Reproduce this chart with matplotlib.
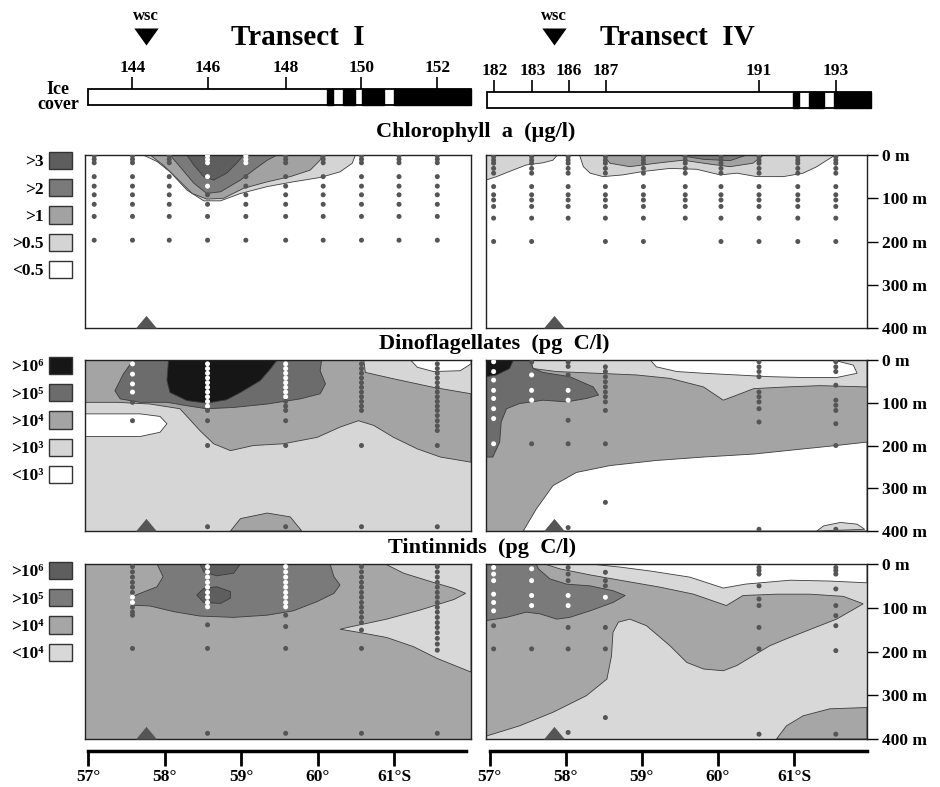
import numpy as np
import matplotlib.pyplot as plt
from matplotlib.path import Path
from matplotlib.patches import Patch, Rectangle

plt.rcParams['font.family'] = ['Liberation Serif', 'DejaVu Serif']
plt.rcParams['font.weight'] = 'bold'

# ---------------- header: ice cover, stations, wsc ----------------
bar_I = (57.0, 62.0)
ice_I = [(60.12, 60.20), (60.33, 60.48), (60.58, 60.87), (61.00, 62.00)]
stn_I = [144, 146, 148, 150, 152]
stn_I_lat = [57.58, 58.56, 59.58, 60.57, 61.56]
wsc_I = 57.76

bar_IV = (56.96, 62.01)
ice_IV = [(60.99, 61.07), (61.20, 61.39), (61.53, 62.01)]
stn_IV = [182, 183, 186, 187, 191, 193]
stn_IV_lat = [57.06, 57.56, 58.04, 58.53, 60.54, 61.55]
wsc_IV = 57.84

# ---------------- sampling stations / depths ----------------
chl_I_lat = [57.08, 57.58, 58.06, 58.56, 59.06, 59.58, 60.07, 60.57, 61.06, 61.56]
chl_I_dep = [2, 10, 18, 50, 72, 92, 114, 142, 197]
chl_IV_lat = [57.05, 57.55, 58.03, 58.52, 59.02, 59.57, 60.04, 60.54, 61.05, 61.55]
chl_IV_dep = [4, 12, 19, 31, 42, 73, 92, 104, 119, 146, 200]
chl_IV_deep = [1, 1, 0, 1, 1, 0, 1, 1, 1, 1]   # station sampled at 200 m

net_I_lat = [57.58, 58.56, 59.58, 60.57, 61.56]
net_IV_lat = [57.05, 57.55, 58.03, 58.52, 60.54, 61.55]

dino_I_dep = [
    [9, 33, 56, 75, 99, 142],
    [9, 20, 31, 42, 53, 64, 75, 86, 97, 108, 118, 142, 200, 390],
    [9, 20, 31, 42, 53, 64, 75, 86, 97, 108, 118, 142, 200, 390],
    [9, 20, 31, 42, 53, 64, 75, 86, 97, 108, 118, 200, 390],
    [9, 20, 31, 42, 53, 64, 75, 86, 97, 108, 118, 130, 142, 154, 165, 200, 390],
]
dino_IV_dep = [
    [4, 27, 47, 71, 90, 114, 137, 196],
    [5, 35, 71, 94, 196],
    [5, 15, 35, 71, 94, 141, 196, 392],
    [16, 27, 39, 51, 63, 75, 86, 98, 118, 196, 333],
    [4, 16, 27, 39, 75, 86, 98, 114, 145, 396],
    [4, 16, 27, 59, 94, 106, 118, 149, 200, 396],
]
tint_I_dep = [
    [6, 18, 30, 42, 53, 65, 76, 88, 99, 110, 117, 193],
    [6, 18, 30, 42, 53, 65, 76, 88, 98, 139, 193, 387],
    [6, 18, 30, 42, 53, 65, 76, 88, 98, 117, 143, 193, 387],
    [6, 18, 30, 42, 53, 65, 76, 88, 99, 110, 122, 134, 151, 193, 387],
    [6, 18, 30, 42, 53, 65, 76, 88, 99, 110, 122, 134, 145, 157, 170, 183, 197, 387],
]
tint_IV_dep = [
    [8, 23, 38, 69, 88, 107, 141, 194],
    [11, 38, 72, 95, 194],
    [8, 23, 38, 72, 95, 145, 194, 385],
    [19, 38, 50, 76, 145, 194, 351],
    [8, 15, 23, 50, 80, 95, 145, 194, 389],
    [8, 15, 23, 57, 95, 118, 141, 198, 389],
]

# ---------------- contour regions (latitude, depth) ----------------
chl_I_05 = [(57.72, 0), (57.90, 15), (58.07, 39), (58.29, 81), (58.51, 106), (58.73, 106), (58.99, 89),
            (59.34, 73), (59.68, 62), (60.03, 52), (60.29, 39), (60.45, 19), (60.49, 0)]
chl_I_1 = [(57.81, 0), (57.98, 23), (58.16, 54), (58.36, 89), (58.55, 102), (58.77, 100), (59.03, 77),
           (59.34, 62), (59.64, 50), (59.90, 35), (60.03, 12), (60.05, 0)]
chl_I_2 = [(58.07, 0), (58.20, 27), (58.38, 65), (58.55, 89), (58.73, 85), (58.99, 58), (59.16, 35),
           (59.34, 12), (59.47, 0)]
chl_I_3 = [(58.29, 0), (58.38, 23), (58.51, 50), (58.64, 58), (58.81, 42), (58.94, 19), (59.03, 0)]

chl_IV_05a = [(56.95, 0), (56.95, 58), (57.09, 50), (57.26, 38), (57.48, 23), (57.70, 18), (57.83, 12),
              (57.89, 0)]
chl_IV_05b = [(58.18, 0), (58.23, 27), (58.32, 42), (58.49, 50), (58.75, 46), (59.02, 38), (59.37, 31),
              (59.72, 33), (60.03, 46), (60.25, 42), (60.51, 50), (60.86, 50), (61.12, 42), (61.30, 27),
              (61.47, 8), (61.54, 0)]
chl_IV_1 = [(58.49, 0), (58.58, 19), (58.84, 27), (59.19, 19), (59.54, 12), (59.89, 21), (60.16, 27),
            (60.46, 19), (60.60, 0)]
chl_IV_2 = [(59.46, 0), (59.81, 10), (60.16, 13), (60.38, 0)]

dino_I_low = [(56.96, 126), (57.29, 126), (57.68, 126), (57.94, 132), (58.03, 149), (57.94, 169),
              (57.68, 179), (57.29, 179), (56.96, 179)]
dino_I_low2 = [(61.21, 0), (61.30, 17), (61.51, 27), (61.86, 25), (62.0, 9), (62.0, 0)]
dino_I_4 = [(56.96, 0), (60.60, 0), (60.62, 29), (60.99, 44), (61.51, 64), (62.0, 79), (62.0, 239),
            (61.60, 227), (61.30, 208), (60.99, 181), (60.73, 153), (60.53, 142), (60.29, 157),
            (59.99, 181), (59.55, 196), (59.16, 200), (58.86, 212), (58.64, 196), (58.46, 165),
            (58.20, 114), (57.81, 103), (57.38, 99), (56.96, 99)]
dino_I_4b = [(58.86, 400), (58.99, 371), (59.34, 358), (59.64, 367), (59.79, 400)]
dino_I_5 = [(57.59, 0), (57.46, 33), (57.35, 72), (57.42, 91), (57.68, 99), (58.03, 99), (58.29, 107),
            (58.55, 114), (58.90, 111), (59.34, 103), (59.77, 91), (60.03, 79), (60.10, 56),
            (60.03, 25), (60.05, 0)]
dino_I_6 = [(58.05, 0), (58.03, 48), (58.07, 76), (58.29, 95), (58.55, 101), (58.81, 93), (58.99, 76),
            (59.25, 48), (59.38, 21), (59.47, 0)]

dino_IV_low = [(57.44, 400), (57.61, 349), (57.83, 294), (58.14, 263), (58.58, 247), (59.19, 235),
               (59.81, 227), (60.47, 220), (61.12, 208), (61.56, 200), (61.96, 192), (61.96, 400)]
dino_IV_3 = [(57.53, 0), (57.57, 20), (57.88, 27), (58.40, 31), (58.93, 35), (59.37, 43), (59.81, 63),
             (60.07, 94), (60.25, 82), (60.47, 67), (60.90, 63), (61.34, 60), (61.96, 63), (61.96, 0)]
dino_IV_low2 = [(59.11, 0), (59.19, 16), (59.46, 27), (59.81, 31), (60.25, 35), (60.68, 39), (61.12, 41),
                (61.56, 41), (61.83, 31), (61.78, 12), (61.56, 2), (61.34, 0)]
dino_IV_3b = [(61.30, 400), (61.39, 388), (61.61, 380), (61.83, 384), (61.93, 396)]
dino_IV_5 = [(56.95, 0), (56.95, 227), (57.04, 227), (57.13, 192), (57.15, 145), (57.22, 114),
             (57.39, 102), (57.70, 94), (58.01, 98), (58.27, 90), (58.43, 82), (58.36, 63), (58.05, 39),
             (57.70, 29), (57.57, 20), (57.53, 0)]
dino_IV_6 = [(56.95, 0), (57.31, 0), (57.26, 20), (57.09, 35), (56.95, 39)]

tint_I_low = [(60.88, 0), (61.12, 21), (61.47, 40), (61.78, 56), (61.93, 67), (61.78, 81), (61.34, 105),
              (60.90, 126), (60.47, 142), (60.29, 149), (60.56, 157), (60.90, 168), (61.25, 189),
              (61.56, 216), (62.0, 247), (62.0, 0)]
tint_I_5 = [(57.90, 0), (57.98, 29), (57.90, 52), (57.68, 67), (57.57, 75), (57.57, 94), (57.81, 96),
            (58.12, 109), (58.46, 119), (58.90, 122), (59.34, 117), (59.68, 107), (59.99, 86),
            (60.21, 67), (60.29, 48), (60.21, 29), (60.16, 0)]
tint_I_6a = [(58.42, 71), (58.51, 56), (58.68, 52), (58.86, 63), (58.86, 78), (58.73, 90), (58.51, 88)]
tint_I_6b = [(58.46, 0), (58.51, 18), (58.68, 27), (58.90, 21), (58.99, 0)]

tint_IV_4 = [(56.93, 0), (57.72, 0), (57.92, 11), (58.32, 25), (58.71, 37), (59.24, 53), (59.68, 69),
             (60.11, 95), (60.33, 72), (60.77, 69), (61.21, 69), (61.65, 74), (61.91, 91), (61.56, 126),
             (61.12, 156), (60.90, 171), (60.68, 187), (60.46, 210), (60.25, 232), (60.07, 244),
             (59.81, 240), (59.59, 225), (59.37, 187), (59.06, 141), (58.84, 126), (58.69, 133),
             (58.62, 156), (58.60, 210), (58.54, 263), (58.27, 301), (57.83, 339), (57.39, 370),
             (56.96, 393), (56.93, 400)]
tint_IV_4b = [(60.77, 400), (60.90, 370), (61.12, 347), (61.47, 331), (61.96, 328), (61.96, 400)]
tint_IV_0 = [(58.32, 0), (58.71, 7), (59.11, 16), (59.63, 30), (60.07, 55), (60.36, 46), (60.95, 37),
             (61.47, 39), (61.96, 43), (61.96, 0)]
tint_IV_5 = [(56.93, 0), (57.61, 0), (57.64, 11), (57.79, 34), (58.01, 46), (58.32, 50), (58.62, 61),
             (58.78, 72), (58.62, 88), (58.32, 107), (58.05, 122), (57.88, 126), (57.66, 114),
             (57.48, 110), (57.22, 122), (56.93, 130)]

chl_labels = ['>3', '>2', '>1', '>0.5', '<0.5']
dino_labels = ['>10⁶', '>10⁵', '>10⁴', '>10³', '<10³']
tint_labels = ['>10⁶', '>10⁵', '>10⁴', '<10⁴']
depth_ticks = [0, 100, 200, 300, 400]
lat_ticks = [57, 58, 59, 60, 61]
lat_labels = ['57°', '58°', '59°', '60°', '61°S']

# ---------------- styles ----------------
chl_colors = ['#5e5e5e', '#7a7a7a', '#a2a2a2', '#d4d4d4', 'white']
dino_colors = ['#161616', '#6c6c6c', '#a4a4a4', '#d6d6d6', 'white']
tint_colors = ['#5e5e5e', '#7a7a7a', '#a6a6a6', '#d8d8d8']
DOT = '#555555'
W, H = 940, 787
XL_I = (56.96, 62.0)
XL_IV = (56.95, 61.96)
TRI_UP = [(-1, 0), (1, 0), (0, 1.2)]
TRI_DOWN = [(-1, 0), (1, 0), (0, -1.4)]


def box(x0, y0, x1, y1):
    return [x0 / W, 1 - y1 / H, (x1 - x0) / W, (y1 - y0) / H]


fig = plt.figure(figsize=(W / 100, H / 100), dpi=100)


def header(pos, xlim, bar, ice, ids, lats, wsc, title, tlat, ybar):
    ax = fig.add_axes(box(*pos))
    ax.set_xlim(xlim)
    ax.set_ylim(110, 0)
    ax.axis('off')
    ax.add_patch(Rectangle((bar[0], ybar), bar[1] - bar[0], 16, facecolor='white',
                           edgecolor='black', linewidth=1.3, clip_on=False))
    for a, b in ice:
        ax.add_patch(Rectangle((a, ybar), b - a, 16, facecolor='black', edgecolor='black',
                               linewidth=1, clip_on=False))
    ax.vlines(lats, ybar - 12, ybar, color='black', linewidth=1.2)
    for i, la in zip(ids, lats):
        ax.text(la, ybar - 17, str(i), ha='center', va='baseline', fontsize=12.5)
    ax.scatter([wsc], [28], marker=TRI_DOWN, s=600, color='black', linewidths=0, clip_on=False)
    ax.text(wsc, 20, 'wsc', ha='center', va='baseline', fontsize=12)
    ax.text(tlat, 45, title, ha='left', va='baseline', fontsize=21)


header((85, 0, 471, 110), XL_I, bar_I, ice_I, stn_I, stn_I_lat, wsc_I, 'Transect  I', 58.87, 89)
header((486, 0, 867, 110), XL_IV, bar_IV, ice_IV, stn_IV, stn_IV_lat, wsc_IV, 'Transect  IV', 58.45, 92)
fig.text(58 / W, 1 - 97 / H, 'Ice\ncover', ha='center', va='center', fontsize=13, linespacing=0.8)


def panel(pos, xlim, background, layers, lats, depths, dark, wsc, right):
    ax = fig.add_axes(box(*pos))
    ax.set_facecolor(background)
    ax.set_xlim(xlim)
    ax.set_ylim(400, 0)
    for poly, color in layers:
        la, de = np.array(poly, dtype=float).T
        ax.fill(la, de, facecolor=color, edgecolor='#3c3c3c', linewidth=0.6, zorder=1)
    pts = np.array([(la, d) for la, ds in zip(lats, depths) for d in ds], dtype=float)
    inside = np.zeros(len(pts), bool)
    for poly in dark:
        inside |= Path(poly).contains_points(pts)
    ax.scatter(pts[:, 0], pts[:, 1], s=13, c=np.where(inside, 'white', DOT), linewidths=0, zorder=3)
    ax.scatter([wsc], [400], marker=TRI_UP, s=330, color=DOT, linewidths=0, clip_on=False, zorder=4)
    ax.set_xticks([])
    for sp in ax.spines.values():
        sp.set_linewidth(1.0)
        sp.set_color('#222222')
    if right:
        ax.yaxis.tick_right()
        ax.set_yticks(depth_ticks)
        ax.set_yticklabels([f'{d} m' for d in depth_ticks])
        ax.tick_params(axis='y', direction='out', length=8, width=1, labelsize=12.5, pad=3)
    else:
        ax.set_yticks([])
    return ax


def legend(labels, colors, top):
    handles = [Patch(facecolor=c, edgecolor='#333333', linewidth=1) for c in colors]
    fig.legend(handles, labels, loc='upper right', bbox_to_anchor=(72 / W, 1 - top / H),
               frameon=False, markerfirst=False, fontsize=12.5, handlelength=1.35,
               handleheight=1.15, labelspacing=0.5, handletextpad=0.3, borderpad=0,
               borderaxespad=0)


# chlorophyll a
c = chl_colors
chl_IV_depths = [chl_IV_dep if deep else chl_IV_dep[:-1] for deep in chl_IV_deep]
panel((85, 155, 471, 328), XL_I, 'white',
      [(chl_I_05, c[3]), (chl_I_1, c[2]), (chl_I_2, c[1]), (chl_I_3, c[0])],
      chl_I_lat, [chl_I_dep] * len(chl_I_lat), [chl_I_2], wsc_I, False)
panel((486, 155, 867, 328), XL_IV, 'white',
      [(chl_IV_05a, c[3]), (chl_IV_05b, c[3]), (chl_IV_1, c[2]), (chl_IV_2, c[1])],
      chl_IV_lat, chl_IV_depths, [], wsc_IV, True)
legend(chl_labels, chl_colors, 152)
fig.text(476 / W, 1 - 132 / H, 'Chlorophyll  a  (µg/l)', ha='center', va='center', fontsize=16)

# dinoflagellates
c = dino_colors
panel((85, 360, 471, 531), XL_I, c[3],
      [(dino_I_4, c[2]), (dino_I_4b, c[2]), (dino_I_low, c[4]), (dino_I_low2, c[4]),
       (dino_I_5, c[1]), (dino_I_6, c[0])],
      net_I_lat, dino_I_dep, [dino_I_5, dino_I_6], wsc_I, False)
panel((486, 360, 867, 531), XL_IV, c[2],
      [(dino_IV_low, c[4]), (dino_IV_3, c[3]), (dino_IV_low2, c[4]), (dino_IV_3b, c[3]),
       (dino_IV_5, c[1]), (dino_IV_6, c[0])],
      net_IV_lat, dino_IV_dep, [dino_IV_5, dino_IV_6], wsc_IV, True)
legend(dino_labels, dino_colors, 357)
fig.text(494 / W, 1 - 344 / H, 'Dinoflagellates  (pg  C/l)', ha='center', va='center', fontsize=16)

# tintinnids
c = tint_colors
ax_tl = panel((85, 564, 471, 739), XL_I, c[2],
              [(tint_I_low, c[3]), (tint_I_5, c[1]), (tint_I_6a, c[0]), (tint_I_6b, c[0])],
              net_I_lat, tint_I_dep, [tint_I_5], wsc_I, False)
ax_tr = panel((486, 564, 867, 739), XL_IV, c[3],
              [(tint_IV_4, c[2]), (tint_IV_4b, c[2]), (tint_IV_0, 'white'), (tint_IV_5, c[1])],
              net_IV_lat, tint_IV_dep, [tint_IV_5], wsc_IV, True)
legend(tint_labels, tint_colors, 562)
fig.text(482 / W, 1 - 548 / H, 'Tintinnids  (pg  C/l)', ha='center', va='center', fontsize=16)

# latitude scales
for x0, x1, xl, end in [(85, 471, XL_I, 61.94), (486, 867, XL_IV, 61.96)]:
    ax = fig.add_axes(box(x0, 750, x1, 751))
    ax.set_xlim(xl)
    ax.patch.set_visible(False)
    for side in ['top', 'left', 'right']:
        ax.spines[side].set_visible(False)
    ax.spines['bottom'].set_linewidth(2.5)
    ax.spines['bottom'].set_bounds(57, end)
    ax.set_yticks([])
    ax.set_xticks(lat_ticks)
    ax.set_xticklabels(lat_labels)
    ax.tick_params(axis='x', direction='out', length=11, width=2, labelsize=12.5, pad=2)

fig.savefig('out.png', dpi=100)
